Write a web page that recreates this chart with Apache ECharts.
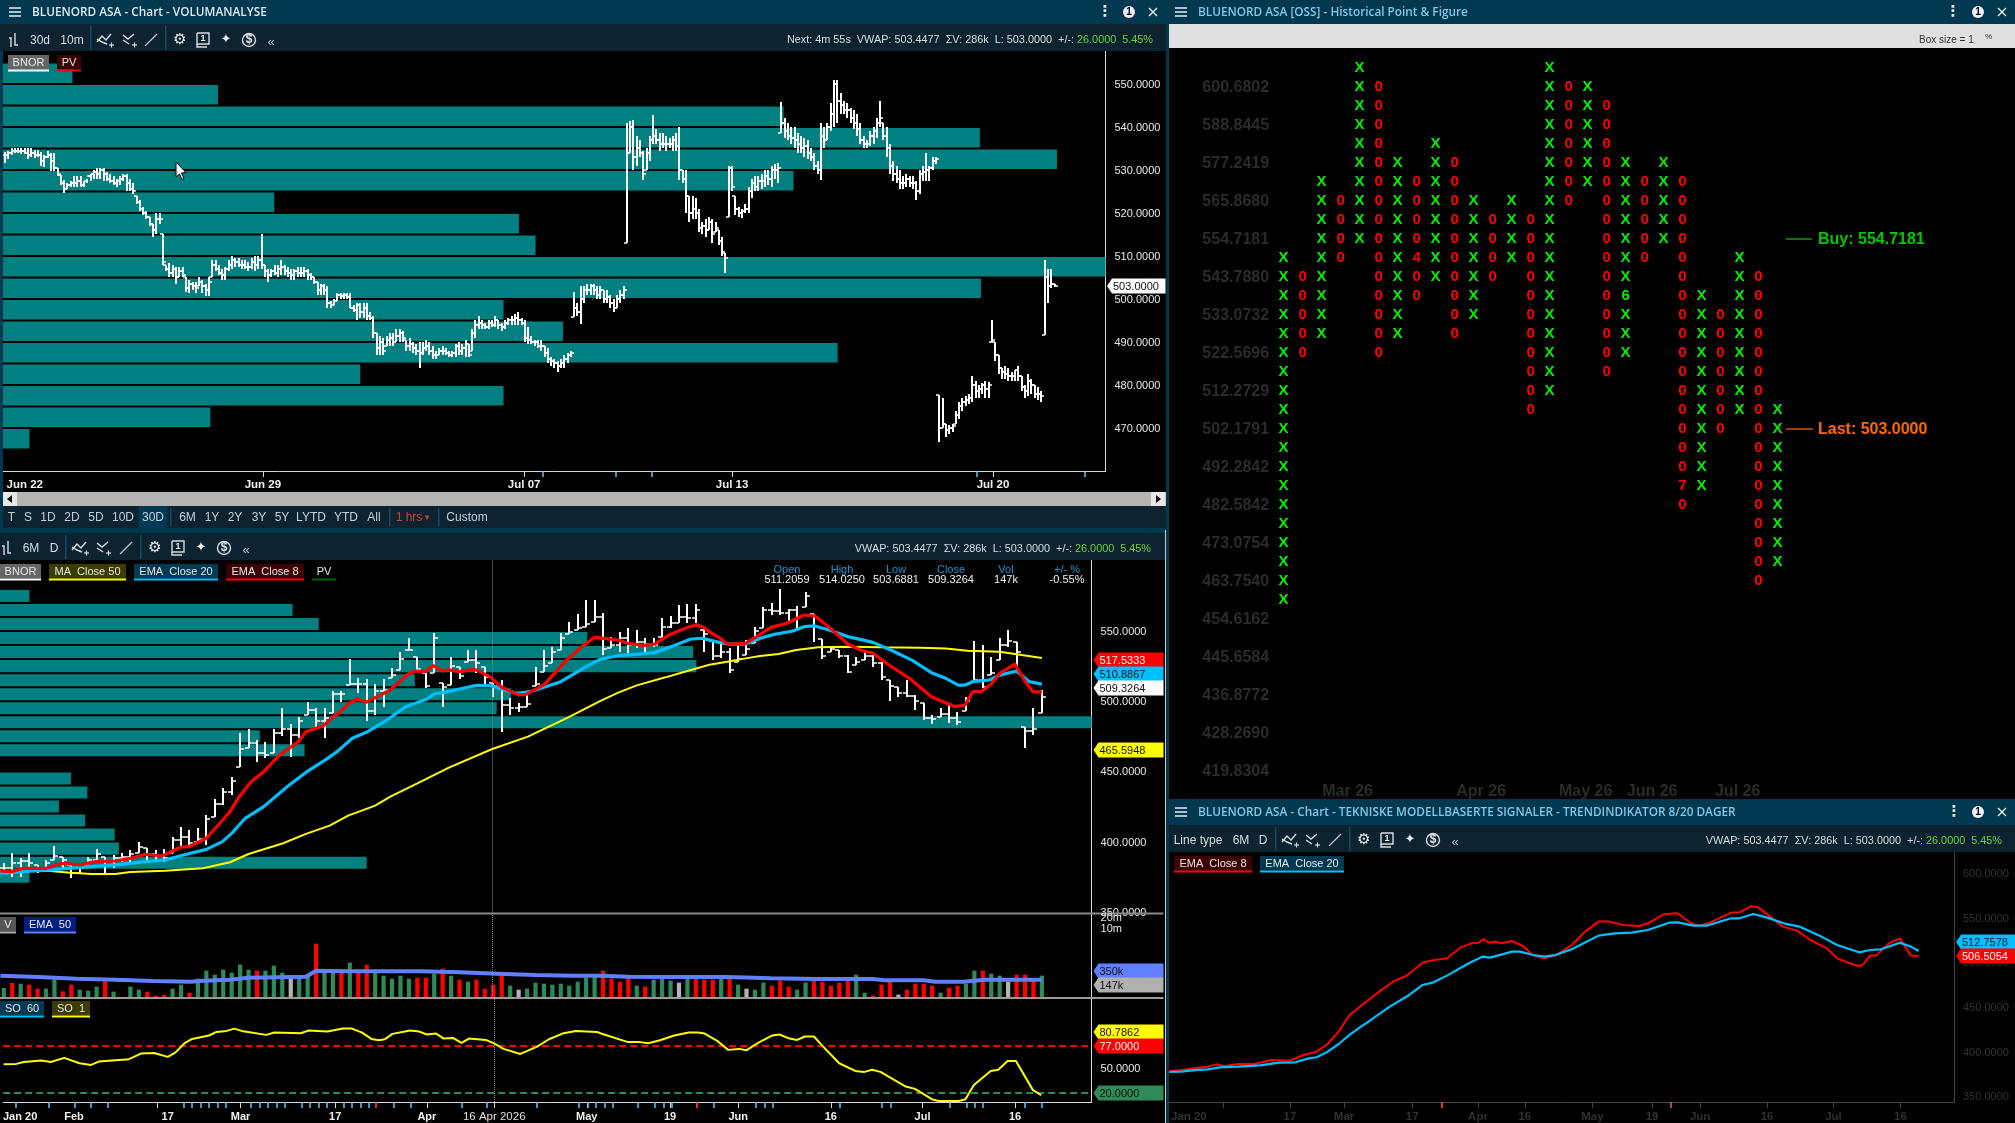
<!DOCTYPE html>
<html><head><meta charset="utf-8">
<style>html,body{margin:0;padding:0;background:#000;overflow:hidden}#c{width:2015px;height:1123px}</style>
<script src="https://cdn.jsdelivr.net/npm/echarts@6/dist/echarts.min.js"></script>
</head><body><div id="c"></div>
<script>
// ---------- Panel 1: intraday price bars ----------
const bar1High=[534.2,534.5,535,535,535,535,535,535.1,535,534.6,
534.6,534.2,533.6,534.5,534,534,530.5,528.8,527.7,527,
527.5,528.5,528.5,528.5,527.5,528,529,530,530.5,530.5,
530.5,529.5,529,528.5,528,528.5,529,529,528,527,
524,523,521.5,520.5,519,517.5,520,520,515,508,
508.4,508,507.5,507.5,507.5,505,504.5,504,504,505,
504.5,503.5,505,509,509,508,507,507.5,509,510,
509.5,509.5,509,509,508.5,509.5,510,510,515,508,
507,507,508,508,509,508,507.5,507,507,507.5,
507.5,507.5,507,506,505,504,503.5,503.5,503,499.5,
500,501.5,501.5,501.5,501.5,501.5,498.5,499,499,499,
499,497,496,492,491.5,491,491.5,492,492,493,
493,492.5,490.5,491,490,489.5,490,490,490.5,490,
489,488,488.5,489,488.5,488,488,489.5,490,489.5,
490.5,489.5,493,495,496,495,494.5,495,495,496,
495,494.5,495,495.5,496,496.5,497,495.5,495,493.5,
491.5,490.5,490.5,490.5,489,488.5,486.5,486,485.5,486,
487,487.5,488,501.6,499,503,503,503.5,503.5,503.5,
503,503,502,502,501,500,501,502,503,541,
541.5,541.6,538,537,534.5,535,538,542.8,539.5,538.5,
538.5,538,537.5,538,538.5,540,530,530,524,524,
523.5,521,518,518.5,519,518.5,518,516,514.5,510.7,
531,531,524,521.5,521,522,526,528,528.5,528.5,
529,530,530,531,531.5,531.6,545.8,542,541,540,
540,538.5,538,537.5,537,535,534,532,541,540,
541,545.5,551,551,548,546,545.5,544.5,544,543,
541,538,537,539,540,542,546,541,540,536,
532,531,530,528.5,529,528.5,528.5,527.5,530,531,
534,531,533,533,
477.6,477,471,470.7,471,474,476,477,477.5,478,
482,481,480,480.5,481,480.7,
495,490,487,484,484.5,484,483,483.5,484.5,482,
480,482.5,481.5,480,479.5,478.5,509,507,507,503.5];
const bar1Low=[531.6,532.5,533.5,534,534,533.8,533.8,532.5,533,532.8,
533,531,530.8,532.8,529.8,529.8,528.5,526.5,524.7,525.5,
526,526,526,526,526,527,527.5,528,528,528,
527.5,527.5,527,526.5,526,526.5,527.5,525,525,524.5,
522,520.5,519.5,518.5,517,514.5,515,517.5,508,506.5,
505,505,503.5,505,505,501.6,501.5,502,501.5,503,
501.5,500.8,500.8,505,506.5,505.5,504.5,504.5,506.5,507,
507.5,507.5,507,507,506.5,507,506.5,507,507,505,
504,505,505.5,505,505.5,505.5,505,504.5,504.5,505,
505,505,504.5,504.5,503.5,501,501,501,498,498,
498.5,499.5,500,500,500,497.8,497,495.2,495.5,495.5,
495.2,495,491,487,487,487,489,489,489,490,
490,490,488,488,487.5,487,484,487,488,487,
486,486,487,487,487,486.5,486.5,486.5,487,487,
486.5,486.5,488,491,493,493,493,493,493.5,493.5,
493,492.5,493,494,494,494,494,494,490,489.5,
489.5,489,488.5,488,486.5,485,484.5,484,483,484,
484,485,486.5,495.8,496,494.2,499,501,501,501,
500,500,499,499,498,497,498,499,500,513,
534,530,531,533,527.7,530,532,536,536,534.5,
535,534.5,535,534.5,534.5,527.7,527,520,518,518.5,
518.5,515.5,515,514.5,516,513,515.5,512.5,510,506,
519,525,519.5,519,518.8,520,520,523.5,525,525,
525.5,526,526.5,526,528,527,538.6,537.5,537,536,
535,534,534,533,532.5,532,530,529,527.7,535,
537,539,540,541,543,543,542,541,539.5,538,
536,535,535,535.5,536,537.5,540,537,533,529,
527.5,527,525.5,525.5,526,526,525.5,523,524.5,527.5,
527.5,527.5,530,531.5,
466.7,470,468,468.5,469,471,472,474,475,475.5,
476,477,477,478,477,477,
490,485.5,482.5,481.5,481.5,481,481,481,481,478.5,
477,477.5,478,477,476.5,476,491.6,499,502.5,502.8];
const bar1Close=[533.5,534,534.5,534.5,534.5,534.5,534,533.5,534,533.5,
533.5,532,533,533.5,532,530.5,529,527,525.5,526.5,
527,527,527.5,526.5,527.5,528.5,529,529.5,529,530,
529,528,527.5,527,527.5,528,528.5,527,525.5,525,
522.5,521,520,519,517.5,516,518.5,518.5,508.5,507,
506,507,505,506.5,505.5,502.5,503.5,503,502.5,504,
503,502,504,508,507,506,505.5,507,508,509,
508.5,508,508,507.5,507.5,508.5,508,509,508,506.5,
505.5,506.5,506,507,507.5,506.5,506,505.5,506.5,506,
506,506.5,505.5,505,504,502,503,502,499,498.5,
499.5,501,500.8,501,500.5,498,497.5,498.5,497,498,
496,495.5,492,488.5,490,488,490.5,491,490,491.5,
492,491,489,489.5,488.5,488,487.5,488.5,489,488,
487,487,488,488,487.5,487,487.5,489,488,488.5,
489.5,487,492,494,494.5,494,493.5,494.5,494,495,
494,493.5,494.5,495,495,495.5,495,494.5,491,490.5,
490,490,489,489,487.5,486,485.5,485,484.5,485,
486,487,487.5,498,497,500,502,502,503,502,
501,502,500,500.5,499,498,500,501,502,534,
540,533,535,534,529,534,537,538,537,536,
536,536,536,537,535.5,530,528,524,520,521,
520,516.5,517,516,518,515,516.5,513.5,511,509.5,
530.5,526,521,520,520.5,521,525,527,526,527.5,
527.5,528.5,528,530,530,530.5,541,539,538,537.5,
537,536,535,535.5,534,533,531,530,538,537,
540,543,550,546,545,544,544,542,541,539.5,
537,536,536,538,539,541,542,538,535,531,
529,528,527,527,528,527,527,525,529,529.5,
530,530.5,532,532.5,
470,471,469.5,470,470.5,473,475,476,476.5,477,
480,478.5,479,480,479,480,
490.5,487,484,483,482.5,482,482,483.5,482,479.5,
478.5,481,480,478,478,477.5,505,503,503.5,503];
const profile1Low=[550,545,540,535,530,525,520,515,510,505,500,495,490,485,480,475,470,465];
const profile1Volume=[6.3,19.5,70.8,88.6,95.6,71.7,24.6,46.8,48.3,100,88.7,45.4,50.8,75.7,32.4,45.4,18.8,2.4];
const price1Ticks=[550,540,530,520,510,500,490,480,470];
const date1Ticks=[78.4,157.8,221,300.3];
const date1LabelAt=[6,78.4,157.8,221,300.3];
const date1Labels=['Jun 22','Jun 29','Jul 07','Jul 13','Jul 20'];
const date1MinorTicks=[163.5,185.7,196.7,295.4,328.3];

// ---------- Panel 2: daily price bars, indicators ----------
const dayHigh=[384.6,392.2,388.1,392.2,383.4,386.9,396.9,389.3,383.4,383.4,389.3,394.6,389.3,390.5,391.7,394.1,400,395.2,394.1,394.6,
403.6,410.7,408.3,409.5,419,430.1,438,445.8,477.2,480,472.4,471.2,480,495,483.8,489,499.7,495,495,507.5,
507.5,529.9,516.3,515.6,512.3,515.6,523.9,535.3,544.8,531.3,520.4,548.4,513.2,531.3,524.6,536.5,536.5,524.6,512.8,515.1,
502.1,499,507.5,524.2,536.5,538.9,548.4,556.7,562.1,572.1,572.1,
563,546,549.5,551.9,550.7,544.8,544.8,559,560.7,568.5,569.2,569.2,550.7,543.1,542.4,537.6,542.4,543.6,553.1,567.3,
569.7,579.7,565.4,567.8,577.5,562.1,544.1,539.3,536.5,532.9,531.7,535.3,532.9,528.1,515.1,510.3,515.1,504.4,498.5,490.2,
494.9,498.5,492.5,503.2,542.9,540,531.7,544.8,550.7,542.4,481.9,494.9,508];
const dayLow=[378.6,375.1,375.1,379.8,377.4,381,386.9,381,373.9,377.4,383.4,384.6,376.3,381,385.8,385.8,391.7,385.8,385.8,385.8,
391.7,396.4,397.6,400,397.6,417.8,426.1,433.2,452.9,466.5,457,459.3,462.9,475.3,460.1,473.6,490.2,480.7,473.6,491.4,
499.7,511.6,506.1,486.2,490.2,496.1,516.3,522.3,536.5,521.1,509.2,519.9,496.1,511.6,515.6,528.2,519.9,512.3,503.3,478.3,
490.2,492.6,495.7,510.9,521.1,527,536.5,547.9,550.7,553.1,556.7,
532.9,537.6,535.3,534.1,537.6,535.3,538.8,546,551.9,555.4,555.4,555.4,535.3,529.3,530.5,519.8,528.1,532.9,541.2,551.9,
561.4,561.4,556.6,551.9,567.3,542.4,529.8,535.3,530.5,519.8,525.8,529.3,524.6,515.1,500.4,503.2,503.2,493.8,486.6,483.8,
489,484.2,483,493.3,513.9,509.2,518.7,529.3,538.8,522.2,466.4,475.9,491.4];
const dayClose=[381,385,386,385,380,385,390,387,378,381,387,391,386,388,389,391,396,391,390,388,
401,403,399,402,416,427,435,443,466,470,463,462,477,480,476,486,494,486,488,505,
505,512,512,493,507,508,519,530,536.5,523,511,545,510,525,518,529,527,517,511,497,
495,496,498,512,525,535,545,549,552,555,560,
537,540,545,540,542,541,540,553,556,560,559,565,548,532,535,522,530,537,550,565,
564,563,565,560,575,560,532,537,532,521,528,532,527,517,511,506,504,500,488,487,
491,488,485,500,515,510,520,540,543,535,479,480,503];
const profile2Low=[570,560,550,540,530,520,510,500,490,480,470,460,440,430,420,410,400,390,380,370];
const profile2Volume=[2.7,26.8,29.2,53.8,63.5,63.8,38,46.8,45.5,100,23.8,27.9,6.5,8,5.4,7.8,10.5,10.9,33.6,2.7];
const ema8=[[-0.4,379.1],[0.9,378.6],[2.3,381],[5,381],[6.8,384.6],[9.1,383.4],[10.9,385.8],[13.2,386.2],[15,388.1],[16.8,391],[18.8,389.8],[20.9,396],[22,396.4],[24,402.4],[25.6,413.1],[26.8,421.4],[27.9,432],[29.3,442.7],[30.8,449.8],[32.7,461.7],[34.9,471.2],[35.8,478.3],[37.9,482.6],[38.8,487.8],[39.9,492.6],[41,499],[41.9,501.6],[42.9,499.2],[45.8,508],[47.9,519.4],[48.8,521.5],[49.9,521.1],[50.9,525.3],[52,521.5],[52.8,522.3],[54,521.1],[55.8,522.7],[57.6,517.5],[59,509.9],[61,504.5],[61.9,504.9],[64,511.6],[66.7,529.4],[68.5,538.9],[70,545.5],[72.8,543.6],[73.9,541.2],[75.8,539.8],[77.1,540.7],[78.8,547.1],[81,552.6],[82.1,554.3],[82.9,552.6],[84,547.9],[84.9,544.8],[85.7,540.5],[87.9,541.2],[89.2,546],[90.9,552.6],[92.8,555.5],[94.8,561.4],[96.1,560.7],[98.2,550.7],[100,540.7],[101.5,536.5],[103,534.1],[104.7,526.5],[107.3,516.3],[109.9,503.2],[112.7,496.1],[113.9,497.3],[114.8,506.8],[115.8,506.8],[117,512.2],[118,519.8],[119.8,526.5],[120.9,515.1],[121.9,506.8],[123,506.5]];
const ema20=[[-0.4,377.4],[2.3,378.6],[5.5,379.8],[9.1,381.7],[13.2,383.4],[16.8,385.8],[19.1,386.9],[21.3,390.5],[24,394.5],[25.9,400],[27,405.9],[28.6,416.6],[30.8,424.9],[33.6,439.2],[36.1,450.6],[38.1,458.2],[39.5,464.1],[41.3,473.6],[43.1,478.3],[45.4,486.6],[47.6,496.1],[50.1,501.4],[51,505.2],[52.6,506.8],[54.4,509.2],[56,511.3],[57.8,510.9],[59.4,508],[60.8,505.6],[62.4,506.8],[66,513.9],[69,524.6],[70.7,529.9],[72.8,532.4],[75.4,533.6],[77.1,534.6],[79.3,539.3],[81.4,544.3],[82.7,544.8],[84.4,542.4],[85.7,540.7],[87.9,540.7],[89.6,544.8],[91.3,547.6],[93.5,550],[94.8,553.1],[96.1,553.6],[97.8,550.7],[100,546],[103,541.9],[105.1,536.5],[107.7,528.9],[109.9,520.3],[111.6,516.3],[113.1,511.5],[113.9,511.5],[114.8,513.9],[116.8,515.1],[118,518.6],[120,521.5],[121.5,513.9],[123,512.2]];
const ma50=[[-0.4,379.3],[5.5,379.1],[7.9,377.9],[10.4,377],[13.2,377],[15,378.4],[19.1,379.3],[23.6,381],[26.8,385.3],[29,391.2],[33.1,398.8],[35.8,405.5],[38.6,411.4],[40.8,418.5],[44,425.6],[45.8,432],[49,441.5],[52.8,452.9],[57.8,465.8],[62.1,474.8],[66.7,488],[70.7,500.3],[72.8,506.1],[75,511.3],[78.4,517],[81.4,522.2],[83.6,526],[85.7,528.1],[87.9,530.5],[89.6,532.2],[91.8,533.6],[93.9,536.5],[96.5,538.4],[100,538.8],[103.8,538.4],[108.6,538.1],[111.6,537.6],[114.2,536],[118,535.3],[120.6,532.9],[123,530.8]];
const price2Ticks=[550,500,450,400,350];
const crosshairDay=57.9;

// ---------- Panel 3: volume ----------
const dayVolume=[30,45,43,40,28,28,55,20,40,25,22,34,50,19,2,34,25,19,7,10,28,40,16,58,82,70,85,76,100,85,82,82,97,76,60,60,70,163,80,75,75,106,80,100,78,67,58,67,58,61,61,73,88,67,55,49,55,28,40,67,37,25,28,46,43,40,43,37,49,61,63,
82,58,49,61,37,34,55,58,52,46,58,58,55,55,61,58,40,28,25,46,37,52,34,25,46,52,49,37,46,52,70,16,7,40,49,10,25,43,43,37,16,31,37,43,82,82,73,67,49,70,70,55,67];
const dayVolumeSide=['g','r','g','r','r','g','g','r','r','g','g','g','r','g','r','g','g','r','r','r','g','g','r','g','g','g','g','g','g','g','r','g','g','g','n','g','g','r','g','g','r','g','r','r','g','g','g','g','g','r','r','g','r','g','r','g','r','r','r','r','g','n','g','g','g','g','g','g','g','g','g',
'r','r','r','r','g','r','g','g','g','n','g','r','r','r','g','r','g','n','g','g','r','r','r','g','g','r','r','r','r','r','g','g','r','r','r','n','r','r','r','r','g','r','r','g','g','r','g','g','n','r','r','r','g'];
const volumeEma50=[[-0.4,67],[4.1,63],[8.6,58],[13.2,55],[17.7,51],[22.2,49],[23.1,51],[26.8,55],[29,61],[35.8,64],[37,82],[40.4,80],[44.9,80],[49.4,80],[54,77],[58.5,73],[63,69],[67.6,67],[70.7,67],[74,64],[79.3,63],[85.7,63],[90.9,59],[96.5,57],[103,57],[104.3,53],[109,53],[110.3,49],[113.7,49],[116.3,55],[123,55]];
const volumeTicks=[207];
const volumeTickLabels=['10m'];
const volumeUpperLabel='20m';

// ---------- Panel 4: stochastic ----------
const so1=[[-0.4,54.8],[1.1,55.2],[2,57.6],[4.1,59.2],[5.2,57.6],[6.8,62.5],[8.6,56],[10,54],[10.9,58],[14.5,60.9],[15.9,67.7],[17.5,68.5],[19.1,63.7],[20,68.9],[21.1,80.3],[22,85.5],[24,89.6],[24.9,94],[26.1,95.2],[27,98],[27.9,95.2],[30.8,90.4],[31.8,93.2],[34.9,92.4],[35.8,95.6],[38.1,94.4],[39.9,98],[41,98],[42.2,93.2],[43.3,85.5],[44.2,83.9],[44.9,85.1],[45.8,91.6],[47.9,95.6],[49,94.4],[49.9,90.8],[51,92],[51.9,85.9],[53,86.7],[54,80.7],[54.9,85.9],[56.9,84.3],[58,79.5],[59,73.4],[61,67.3],[63,76.2],[64.4,85.1],[66,92],[67.6,95.2],[70.1,94],[70.6,92],[73.7,81.9],[75,81.9],[76.2,80.3],[77.5,83.5],[79.3,89.6],[81,93.2],[82.1,93.2],[82.9,92],[84.4,83.1],[85.7,72.2],[87,73.4],[87.9,71.8],[89.2,80.3],[90.9,89.6],[91.8,90.8],[93,85.9],[93.9,84.3],[94.8,88.4],[95.9,88.4],[96.9,77],[98.9,56],[100.8,46.7],[101.9,45.5],[102.8,48],[103.8,45.5],[106.8,27.7],[107.9,24.9],[109.9,12.4],[110.7,10.3],[113.1,10.3],[113.9,12.4],[114.9,29.7],[116.9,46.7],[117.8,48],[118.9,58.8],[119.9,58.8],[121.9,23.7],[122.9,17.2]];
const soUpper=77, soLower=20;
const soTicks=[50];
const dayDateTicks=[17.9,27.75,39,49.9,57.9,68.9,78.8,86.9,97.9,108.8,119.8];
const dayDateLabelAt=[1.56,7.96,19.1,27.75,39,49.9,57.9,68.9,78.8,86.9,97.9,108.8,119.8];
const dayDateLabels=['Jan 20','Feb','17','Mar','17','Apr','16 Apr 2026','May','19','Jun','16','Jul','16'];
const dayMinorTicks=[1,5,8,10,12,21,22,23,24,25,26,29,30,31,32,33,35,36,37,38,40,41,42,43,46,48,54,57,63,68,69,70,71,72,75,77,78,79,84,89,90,91,99,104,105,112,114,115,116,121,123];
const dayAlertTicks=[43.8,82];

// ---------- Panel 5: point & figure ----------
const pnfColumns=[['X',10,28],['0',11,15],['X',6,14],['0',7,10],['X',0,9],['0',1,15],['X',5,14],['0',6,12],['X',4,11],['0',5,14],['X',7,13],['0',8,11],['X',7,10],['0',8,18],['X',0,17],['0',1,7],['X',1,6],['0',2,16],['X',5,15],['0',6,10],['X',5,9],['0',6,23],['X',12,22],['0',13,19],['X',10,18],['0',11,27],['X',18,26]];
const pnfMonthDigits=[[7,10,'4'],[18,12,'6'],[21,22,'7']];
const pnfRowLabels=['600.6802','588.8445','577.2419','565.8680','554.7181','543.7880','533.0732','522.5696','512.2729','502.1791','492.2842','482.5842','473.0754','463.7540','454.6162','445.6584','436.8772','428.2690','419.8304'];
const pnfMonthAt=[3.37,10.4,15.9,19.4,23.9];
const pnfMonths=['Mar 26','Apr 26','May 26','Jun 26','Jul 26'];

// ---------- Panel 6: trend indicator ----------
const trendEma8=[[-0.1,378.1],[1.9,379.3],[4.5,381.9],[6.3,383],[7.6,385.6],[9,383.7],[11.2,386],[13.9,386],[16.6,390.5],[19.7,389.7],[21.9,396.1],[24.1,399.8],[25.9,408.4],[27.7,422.2],[29.5,440.9],[31.2,450.2],[33.5,462.6],[36.6,478.2],[38.8,484.6],[41.5,499.5],[42.8,501.8],[45.5,504.4],[47.7,516.3],[49.5,521.2],[50.7,521.9],[51.5,526],[52.4,521.9],[53.5,523.1],[54.4,521.2],[56.2,523.8],[58,518.2],[59.7,507.4],[61.5,504.4],[63.3,507.4],[66,519.3],[68.2,534.3],[70.4,545.5],[72.2,545.5],[74.4,541.7],[77.1,540.6],[78.5,543.6],[81.1,553.7],[83.4,554.8],[85.6,543.6],[86.9,541],[88.7,544.3],[92.2,555.6],[93.6,555.9],[95.4,562.6],[96.7,561.2],[100.7,539.9],[103,535.4],[105.2,524.9],[107.9,515.6],[109.6,504.4],[111.4,499.5],[113.2,495.8],[113.8,496.9],[115,507.4],[116,507.4],[118.1,521.2],[119.9,526.8],[121.7,507.4],[123,507]];
const trendEma20=[[-0.1,377],[1.9,377.4],[4.5,379.3],[6.3,380],[8.1,382.2],[11.2,383],[14.8,384.5],[17.9,387.5],[20.6,387.9],[22.8,392.3],[24.1,393.5],[25.9,399.8],[27.7,408.4],[29.5,418.5],[31.2,427.1],[33,435.3],[36.1,450.2],[39.3,463.3],[41.5,474.5],[43.3,477.5],[45.5,485],[49.1,498.8],[51.3,506.2],[52.6,505.1],[56.2,511.9],[57.5,511.9],[59.7,508.1],[61.5,506.2],[63.3,508.1],[66,514.5],[70.4,529.8],[73.1,532.4],[75.8,533.1],[78.5,536.1],[82,544.3],[83.4,544.7],[86,541],[88.2,541],[92.2,549.2],[93.6,549.2],[95.8,554.1],[98,550.3],[101.2,542.9],[103.4,539.9],[107,528.7],[109.6,519.3],[113.2,511.1],[115,513.7],[116.8,514.5],[119.9,521.9],[121.7,517.5],[123,512.6]];
const trendPriceTicks=[600,550,500,450,400,350];
const trendDateAt=[3.1,19.7,28.6,39.8,50.6,58.3,69.4,79.2,87.1,98.1,109,120];
const trendDateLabels=['Jan 20','17','Mar','17','Apr','16','May','19','Jun','16','Jul','16'];
const trendTicks=[8.8,19.7,28.6,39.8,50.6,58.3,69.4,79.2,87.1,98.1,109,120];
const trendAlertTicks=[44.7,82.3];

// ---------- texts ----------
const headerLong='Next: 4m 55s  VWAP: 503.4477  ΣV: 286k  L: 503.0000  +/-: ';
const headerShort='VWAP: 503.4477  ΣV: 286k  L: 503.0000  +/-: ';
const headerChange='26.0000  5.45%';
const statNames=['Open','High','Low','Close','Vol','+/- %'];
const statValues=['511.2059','514.0250','503.6881','509.3264','147k','-0.55%'];
const rangeButtons=['T','S','1D','2D','5D','10D','30D','6M','1Y','2Y','3Y','5Y','LYTD','YTD','All'];

// ---------- helpers ----------
const LS='"Liberation Sans"', TITLE='"Open Sans"';
const gfx=[];
const T=(x,y,text,o={})=>gfx.push({type:'text',z:200,silent:true,style:{x,y:y+1,text,fill:o.c||'#d5dde3',fontSize:o.s||11,fontWeight:o.w||'normal',fontFamily:o.f||LS,align:o.a||'left',verticalAlign:'middle'}});
const R=(x,y,w,h,fill,z=150)=>gfx.push({type:'rect',z,silent:true,shape:{x,y,width:w,height:h},style:{fill}});
const L=(pts,stroke='#d5dde3',lw=1.4,z=200)=>gfx.push({type:'polyline',z,silent:true,shape:{points:pts},style:{stroke,lineWidth:lw,fill:null}});
const chip=(x1,x2,y,text,bg,ul,c='#e6e6e6')=>{R(x1,y,x2-x1,14.5,bg,210);R(x1,y+14.5,x2-x1,2,ul,210);gfx.push({type:'text',z:220,silent:true,style:{x:(x1+x2)/2,y:y+8,text,fill:c,fontSize:11,fontFamily:LS,align:'center',verticalAlign:'middle'}});};
const tag=(x1,x2,y,text,fill,c='#111')=>{gfx.push({type:'polygon',z:210,silent:true,shape:{points:[[x1,y],[x1+5,y-7.5],[x2,y-7.5],[x2,y+7.5],[x1+5,y+7.5]]},style:{fill}});gfx.push({type:'text',z:220,silent:true,style:{x:x1+6,y:y+1,text,fill:c,fontSize:11,fontFamily:LS,align:'left',verticalAlign:'middle'}});};
const burger=(x,y)=>{[-4,0,4].forEach(d=>L([[x-6,y+d],[x+6,y+d]],'#d5e5ee',1.6));};
const winIcons=(xd,xb,xx,y)=>{T(xd,y-1,'⋮',{s:15,w:'bold',a:'center',c:'#e6e6e6',f:'"DejaVu Sans"'});
 gfx.push({type:'circle',z:200,silent:true,shape:{cx:xb,cy:y,r:6},style:{fill:'#eef'}});T(xb,y-1,'1',{s:10,w:'bold',a:'center',c:'#002'});
 L([[xx-4,y-4],[xx+4,y+4]],'#e6e6e6',1.5);L([[xx-4,y+4],[xx+4,y-4]],'#e6e6e6',1.5);};
const sep=(x,y1,y2)=>R(x,y1,1.5,y2-y1,'#0f4a66',190);
const iconBars=(x,y)=>{L([[x-5,y-2],[x-3,y-2],[x-3,y+7]]);L([[x+1,y-7],[x+1,y+5],[x+4,y+5]]);};
const iconSet=(xs,y)=>{ // trend+, trend-, pen, gear, page, star, money, more
 const [a,b,c,d,e,f,g,h]=xs;
 L([[a-8,y+2],[a-3,y-4],[a+1,y],[a+6,y-6]]);L([[a-8,y-1],[a-3,y+2],[a+2,y+4]]);L([[a+4,y+5],[a+9,y+5]],'#d5dde3',1.2);L([[a+6.5,y+2.5],[a+6.5,y+7.5]],'#d5dde3',1.2);
 L([[b-6,y-5],[b-1,y-1],[b+5,y-6]]);L([[b-6,y],[b,y+4]]);L([[b+3,y+5],[b+8,y+5]],'#d5dde3',1.2);L([[b+5.5,y+2.5],[b+5.5,y+7.5]],'#d5dde3',1.2);
 L([[c-6,y+6],[c+6,y-6]],'#b8c4cc',1.2);
 T(d,y-1,'⚙',{s:15,a:'center',f:'"DejaVu Sans"',c:'#e6e6e6'});
 L([[e-6,y-7],[e+6,y-7],[e+6,y+4],[e-6,y+4],[e-6,y-7]]);L([[e-6,y+4],[e-6,y+7],[e+4,y+7]]);T(e,y-2.5,'1',{s:9,a:'center',w:'bold',c:'#e6e6e6'});
 T(f,y-1,'✦',{s:13,a:'center',f:'"DejaVu Sans"',c:'#f0f0f0'});
 gfx.push({type:'circle',z:200,silent:true,shape:{cx:g,cy:y,r:6.5},style:{stroke:'#d5dde3',lineWidth:1.4,fill:null}});T(g,y-1,'$',{s:12,a:'center',w:'bold',c:'#e6e6e6'});
 T(h,y+1,'«',{s:13,a:'center',c:'#b8c4cc'});
};
const headerRight=(xEnd,y,txt)=>gfx.push({type:'text',z:200,silent:true,style:{x:xEnd,y:y+1,align:'right',verticalAlign:'middle',fontSize:10.85,fontFamily:LS,text:'{w|'+txt+'}{g|'+headerChange+'}',rich:{w:{fill:'#d5dde3',fontSize:10.85,fontFamily:LS},g:{fill:'#6ccf3c',fontSize:10.85,fontFamily:LS}}}});

// ---------- chrome ----------
const BAR='#00384f', TOOL='#0d2330';
R(0,0,1166,24,BAR);R(0,24,1166,27,TOOL);R(0,0,3,528,BAR,149);
burger(15,12);T(32,12,'BLUENORD ASA - Chart - VOLUMANALYSE',{s:11.8,w:600,f:TITLE,c:'#dfe9ee'});winIcons(1105,1129,1153,12);
iconBars(14,40);T(40,40,'30d',{a:'center',s:12});T(72,40,'10m',{a:'center',s:12});sep(90,26,50);sep(165,26,50);
iconSet([105,129,151,180,203,226,249,271],40);
headerRight(1153,39,headerLong);
chip(8,49,55,'BNOR','#666','#fff');chip(57,81,55,'PV','#3c0000','#f00');
// mouse cursor
gfx.push({type:'polygon',z:230,silent:true,shape:{points:[[176,162],[176,177],[179.5,174],[182,179.5],[184,178.5],[181.5,173],[186,172.5]]},style:{fill:'#fff',stroke:'#000',lineWidth:1}});
// scrollbar and range buttons
R(3,492,1163,14,'#b4b4b4');R(3,492,14,14,'#e8e8e8',151);R(1151,492,14.5,14,'#e8e8e8',151);
gfx.push({type:'polygon',z:200,silent:true,shape:{points:[[7,499],[12,495],[12,503]]},style:{fill:'#111'}});
gfx.push({type:'polygon',z:200,silent:true,shape:{points:[[1161,499],[1156,495],[1156,503]]},style:{fill:'#111'}});
R(3,506,1163,22,TOOL);R(138.5,506,29,22,'#013a52',151);R(0,528,1166,5,'#00384f');
const rangeX=[11.5,28,48,72,96,123,153,187.5,212,235,259,282,311,346,374];
rangeButtons.forEach((b,i)=>T(rangeX[i],517,b,{a:'center',s:12,c:'#c4d0d8'}));
sep(170,508,526);sep(389,508,526);sep(438,508,526);
T(409,517,'1 hrs',{a:'center',s:12,c:'#d8402e'});T(427,517,'▾',{a:'center',s:9,c:'#d8402e',f:'"DejaVu Sans"'});T(467,517,'Custom',{a:'center',s:12,c:'#c4d0d8'});
// panel 2 toolbar
R(0,533,1166,27,TOOL);iconBars(7,548);T(31,548,'6M',{a:'center',s:12});T(54,548,'D',{a:'center',s:12});sep(65,535,559);sep(140,535,559);
iconSet([80,103,126,155,178,201,224,246],548);headerRight(1151,548,headerShort);
chip(0,41,564,'BNOR','#666','#fff');chip(49,126,564,'MA  Close 50','#3c3c00','#ff0');chip(134,218,564,'EMA  Close 20','#003a52','#00bfff');chip(226,304,564,'EMA  Close 8','#3c0000','#f00');chip(312,336,564,'PV','#000','#006400');
const statX=[787,842,896,951,1006,1067];
statNames.forEach((n,i)=>{T(statX[i],569,n,{a:'center',c:'#1c94d0'});T(statX[i],579,statValues[i],{a:'center',c:'#f0f0f0'});});
tag(1107,1165.5,286,'503.0000','#fff');
tag(1093.5,1163.5,660,'517.5333','#f00','#fff');tag(1093.5,1163.5,674,'510.8867','#00bfff');tag(1093.5,1163.5,688,'509.3264','#fff');tag(1093.5,1163.5,750,'465.5948','#ff0');
tag(1093.5,1163.5,971,'350k','#6080ff');tag(1093.5,1163.5,985,'147k','#b0b0b0');
tag(1093.5,1163.5,1032,'80.7862','#ff0');tag(1093.5,1163.5,1046,'77.0000','#f00','#fff');tag(1093.5,1163.5,1093,'20.0000','#2e8b57');
T(1100.6,917,volumeUpperLabel,{c:'#e8e8e8'});
chip(0,16,917,'V','#555','#aaa');chip(24,76,917,'EMA  50','#001f80','#6080ff');chip(0,44,1001,'SO  60','#003a52','#00bfff');chip(52,90,1001,'SO  1','#3c3c00','#ff0');
L([[0,913.5],[1163.5,913.5]],'#8a8a8a',2,120);L([[0,998],[1163.5,998]],'#9a9a9a',2,120);
// separators
R(1166,0,3,1123,BAR,190);L([[1165.5,530],[1165.5,1123]],'#c8c8c8',1,191);
// panel 5
R(1169,0,846,24,BAR);R(1169,24,846,24,'#e0e0e0');burger(1181,12);T(1198,12,'BLUENORD ASA [OSS] - Historical Point & Figure',{s:11.8,w:600,f:TITLE,c:'#7fc8ea'});winIcons(1953,1978,2002,12);
T(1919,39,'Box size = 1',{s:10,c:'#333'});T(1985,36,'%',{s:8,c:'#333'});
L([[1786,239],[1812,239]],'#00c000',1.2);T(1818,239,'Buy: 554.7181',{s:16,w:'bold',c:'#00c800'});
L([[1786,429],[1813,429]],'#ff6a00',1.2);T(1818,429,'Last: 503.0000',{s:16,w:'bold',c:'#ff6a00'});
// panel 6
R(1169,799,846,26,BAR);R(1169,825,846,27,TOOL);burger(1181,812);T(1198,812,'BLUENORD ASA - Chart - TEKNISKE MODELLBASERTE SIGNALER - TRENDINDIKATOR 8/20 DAGER',{s:11.8,w:600,f:TITLE,c:'#7fc8ea'});winIcons(1954,1978,2002,812);
T(1198,840,'Line type',{a:'center',s:12});T(1241,840,'6M',{a:'center',s:12});T(1263,840,'D',{a:'center',s:12});sep(1275,827,851);sep(1349,827,851);
iconSet([1290,1312,1335,1364,1387,1410,1433,1455],840);headerRight(2002,840,headerShort);
chip(1174,1252,856,'EMA  Close 8','#3c0000','#f00');chip(1260,1344,856,'EMA  Close 20','#003a52','#00bfff');
tag(1956,2015,942,'512.7578','#00bfff');tag(1956,2015,956,'506.5054','#f00','#fff');

// ---------- series render helpers ----------
const ohlc=(tick,lw)=>(p,api)=>{const i=api.value(0),h=api.coord([i,api.value(1)]),l=api.coord([i,api.value(2)]),c=api.coord([i,api.value(3)]),o=api.coord([i,api.value(4)]);
 const st={stroke:'#fff',lineWidth:lw},tk={stroke:'#fff',lineWidth:1.5};
 const x=Math.round(h[0]);
 return {type:'group',children:[
  {type:'line',shape:{x1:x,y1:Math.round(h[1]),x2:x,y2:Math.round(l[1])},style:st},
  {type:'line',shape:{x1:x,y1:Math.round(c[1]),x2:x+tick+1,y2:Math.round(c[1])},style:tk},
  {type:'line',shape:{x1:x-tick-1,y1:Math.round(o[1]),x2:x,y2:Math.round(o[1])},style:tk}]};};
const toOhlc=(hi,lo,cl)=>hi.map((h,i)=>{const prev=i?cl[i-1]:cl[i];return [i,h,lo[i],cl[i],Math.min(h,Math.max(lo[i],prev))];});
const bandStep=(lows,vols,step)=>lows.map((l,i)=>[l,l+step,vols[i]]);
const profileItem=(p,api)=>{const a=api.coord([api.value(2),api.value(0)]),b=api.coord([api.value(2),api.value(1)]),x0=p.coordSys.x;
 return {type:'rect',shape:{x:x0,y:b[1]+1,width:a[0]-x0,height:a[1]-b[1]-2},style:{fill:'#008080'}};};
const SIDE={g:'#2e8b57',r:'#ff0000',n:'#b4b4b4'};
const volItem=(p,api)=>{const a=api.coord([api.value(0),api.value(1)]),b=api.coord([api.value(0),0]);
 return {type:'rect',shape:{x:a[0]-2.1,y:a[1],width:4.2,height:b[1]-a[1]},style:{fill:SIDE[dayVolumeSide[p.dataIndex]]}};};
const pnfRows=[];pnfColumns.forEach((c,col)=>{for(let r=c[1];r<=c[2];r++){const d=pnfMonthDigits.find(m=>m[0]===col&&m[1]===r);pnfRows.push([col,r,d?d[2]:c[0],c[0]]);}});
const pnfItem=(p,api)=>{const row=pnfRows[p.dataIndex],pt=api.coord([row[0],row[1]]);
 return {type:'text',style:{x:pt[0],y:pt[1],text:row[2],fill:row[3]==='X'?'#00f000':'#ff0000',font:'bold 15px '+LS,align:'center',verticalAlign:'middle'}};};
const lineS=(name,data,color,w,x,y,extra={})=>Object.assign({name,type:'line',data,xAxisIndex:x,yAxisIndex:y,showSymbol:false,symbol:'none',silent:true,animation:false,lineStyle:{color,width:w},z:5},extra);
const cross={silent:true,symbol:'none',animation:false,label:{show:false},lineStyle:{color:'#888',type:'dotted',width:1},data:[{xAxis:crosshairDay}]};

// ---------- axes ----------
const hidden=(grid,min,max)=>({type:'value',gridIndex:grid,min,max,show:false,position:'bottom'});
const X1=[-0.6,334.5], XD=[-0.45,128.89], X6=[-0.16,128.8];
const xAxis=[
 {type:'value',gridIndex:0,min:X1[0],max:X1[1],position:'bottom',splitLine:{show:false},axisLine:{onZero:false,lineStyle:{color:'#d8d8d8',width:1}},
  axisTick:{length:6,customValues:date1Ticks,lineStyle:{color:'#d8d8d8'}},
  axisLabel:{customValues:date1LabelAt,margin:8,color:'#f0f0f0',fontWeight:'bold',fontSize:11.5,fontFamily:LS,formatter:v=>date1Labels[date1LabelAt.indexOf(v)]}},
 {type:'value',gridIndex:0,min:X1[0],max:X1[1],position:'bottom',splitLine:{show:false},axisLine:{show:false,onZero:false},axisLabel:{show:false},axisTick:{length:6,customValues:date1MinorTicks,lineStyle:{color:'#6cc4f4',width:1.5}}},
 hidden(0,0,100),
 hidden(1,XD[0],XD[1]), hidden(1,0,100), hidden(2,XD[0],XD[1]),
 {type:'value',gridIndex:3,min:XD[0],max:XD[1],position:'bottom',splitLine:{show:false},axisLine:{onZero:false,lineStyle:{color:'#d8d8d8',width:1}},
  axisTick:{length:6,customValues:dayDateTicks,lineStyle:{color:'#d8d8d8'}},
  axisLabel:{customValues:dayDateLabelAt,margin:9,color:'#f0f0f0',fontWeight:'bold',fontSize:11,fontFamily:LS,rich:{n:{color:'#e0e0e0',fontWeight:'normal',fontSize:11.5,fontFamily:LS}},
   formatter:v=>{const s=dayDateLabels[dayDateLabelAt.indexOf(v)];return s.length>6?'{n|'+s+'}':s;}}},
 {type:'value',gridIndex:3,min:XD[0],max:XD[1],position:'bottom',splitLine:{show:false},axisLine:{show:false,onZero:false},axisLabel:{show:false},axisTick:{length:6,customValues:dayMinorTicks,lineStyle:{color:'#6cc4f4',width:1.5}}},
 {type:'value',gridIndex:3,min:XD[0],max:XD[1],position:'bottom',splitLine:{show:false},axisLine:{show:false,onZero:false},axisLabel:{show:false},axisTick:{length:6,customValues:dayAlertTicks,lineStyle:{color:'#ff5040',width:1.5}}},
 {type:'value',gridIndex:4,min:-0.5,max:38.5,position:'bottom',splitLine:{show:false},axisLine:{show:false,onZero:false},axisTick:{show:false},
  axisLabel:{inside:true,customValues:pnfMonthAt,margin:0,color:'#2b2b2b',fontWeight:'bold',fontSize:16,fontFamily:LS,formatter:v=>pnfMonths[pnfMonthAt.indexOf(v)]}},
 {type:'value',gridIndex:5,min:X6[0],max:X6[1],position:'bottom',splitLine:{show:false},axisLine:{onZero:false,lineStyle:{color:'#444',width:1}},
  axisTick:{length:6,customValues:trendTicks,lineStyle:{color:'#444'}},
  axisLabel:{customValues:trendDateAt,margin:9,color:'#303030',fontWeight:'bold',fontSize:11.5,fontFamily:LS,formatter:v=>trendDateLabels[trendDateAt.indexOf(v)]}},
 {type:'value',gridIndex:5,min:X6[0],max:X6[1],position:'bottom',splitLine:{show:false},axisLine:{show:false,onZero:false},axisLabel:{show:false},axisTick:{length:6,customValues:trendAlertTicks,lineStyle:{color:'#ff5040',width:1.5}}}
];
const rightY=(grid,min,max,ticks,fmt,lineC='#d8d8d8',labelC='#e8e8e8',tight=false)=>({type:'value',gridIndex:grid,min,max,position:'right',splitLine:{show:false},axisTick:{show:false},axisLine:{show:true,onZero:false,lineStyle:{color:lineC,width:1}},
 axisLabel:{customValues:ticks,margin:9,color:labelC,fontSize:11,fontFamily:LS,
  rich:{a:{padding:[2,0,0,0],color:labelC,fontSize:11,fontFamily:LS}},formatter:tight?fmt:(v=>'{a|'+fmt(v)+'}')}});
const f4=v=>v.toFixed(4);
const yAxis=[
 rightY(0,460,557.67,price1Ticks,f4),
 rightY(1,348.8,600.57,price2Ticks,f4),
 rightY(2,0,253.5,volumeTicks,v=>volumeTickLabels[volumeTicks.indexOf(v)],'#d8d8d8','#e8e8e8',true),
 rightY(3,9,135.1,soTicks,f4),
 {type:'value',gridIndex:4,min:-0.5,max:38.5,inverse:true,position:'left',splitLine:{show:false},axisTick:{show:false},axisLine:{show:false,onZero:false},
  axisLabel:{customValues:pnfRowLabels.map((_,k)=>2*k+1),margin:5,rich:{a:{padding:[2,0,0,0],color:'#2b2b2b',fontWeight:'bold',fontSize:16,fontFamily:LS}},formatter:v=>'{a|'+pnfRowLabels[(v-1)/2]+'}'}},
 rightY(5,343.4,623.5,trendPriceTicks,f4,'#444','#333')
];

const series=[
 {type:'custom',name:'Volume profile 1',xAxisIndex:2,yAxisIndex:0,data:bandStep(profile1Low,profile1Volume,5),encode:{x:2,y:[0,1]},renderItem:profileItem,animation:false,silent:true,z:1},
 {type:'custom',name:'BNOR 1',xAxisIndex:0,yAxisIndex:0,data:toOhlc(bar1High,bar1Low,bar1Close),encode:{x:0,y:[1,2,3,4]},renderItem:ohlc(2,2),animation:false,silent:true,z:3},
 {type:'custom',name:'Volume profile 2',xAxisIndex:4,yAxisIndex:1,data:bandStep(profile2Low,profile2Volume,10),encode:{x:2,y:[0,1]},renderItem:profileItem,animation:false,silent:true,z:1},
 {type:'custom',name:'BNOR',xAxisIndex:3,yAxisIndex:1,data:toOhlc(dayHigh,dayLow,dayClose),encode:{x:0,y:[1,2,3,4]},renderItem:ohlc(3,2),animation:false,silent:true,z:3},
 lineS('MA Close 50',ma50,'#ffff00',2,3,1,{markLine:cross}),
 lineS('EMA Close 20',ema20,'#00bfff',3.2,3,1),
 lineS('EMA Close 8',ema8,'#ff0000',3.2,3,1),
 {type:'custom',name:'V',xAxisIndex:5,yAxisIndex:2,data:dayVolume.map((v,i)=>[i,v]),encode:{x:0,y:1},renderItem:volItem,animation:false,silent:true,z:3},
 lineS('EMA 50',volumeEma50,'#6080ff',4,5,2,{markLine:cross}),
 lineS('SO 1',so1,'#ffff00',2,6,3,{markLine:{silent:true,symbol:'none',animation:false,label:{show:false},data:[
   {yAxis:soUpper,lineStyle:{color:'#ff0000',type:[7,4],width:2}},{yAxis:soLower,lineStyle:{color:'#2e8b57',type:[7,4],width:2}},
   {xAxis:crosshairDay,lineStyle:{color:'#888',type:'dotted',width:1}}]}}),
 {type:'custom',name:'Point and Figure',xAxisIndex:9,yAxisIndex:4,data:pnfRows.map(r=>[r[0],r[1]]),encode:{x:0,y:1},renderItem:pnfItem,animation:false,silent:true,z:3},
 lineS('Trend EMA 8',trendEma8,'#ff0000',2,10,5),
 lineS('Trend EMA 20',trendEma20,'#00bfff',2.2,10,5)
];

const chart=echarts.init(document.getElementById('c'),null,{renderer:'canvas',width:2015,height:1123});
chart.setOption({
 backgroundColor:'#000',animation:false,
 grid:[
  {left:3,top:51,width:1102.5,height:420},
  {left:0,top:560,width:1091.6,height:353.5},
  {left:0,top:913.5,width:1091.6,height:84.5},
  {left:0,top:998,width:1091.6,height:104},
  {left:1274.1,top:58.2,width:740.9,height:741},
  {left:1169,top:852,width:785,height:250}
 ],
 xAxis,yAxis,series,
 graphic:{elements:gfx}
});
</script></body></html>
